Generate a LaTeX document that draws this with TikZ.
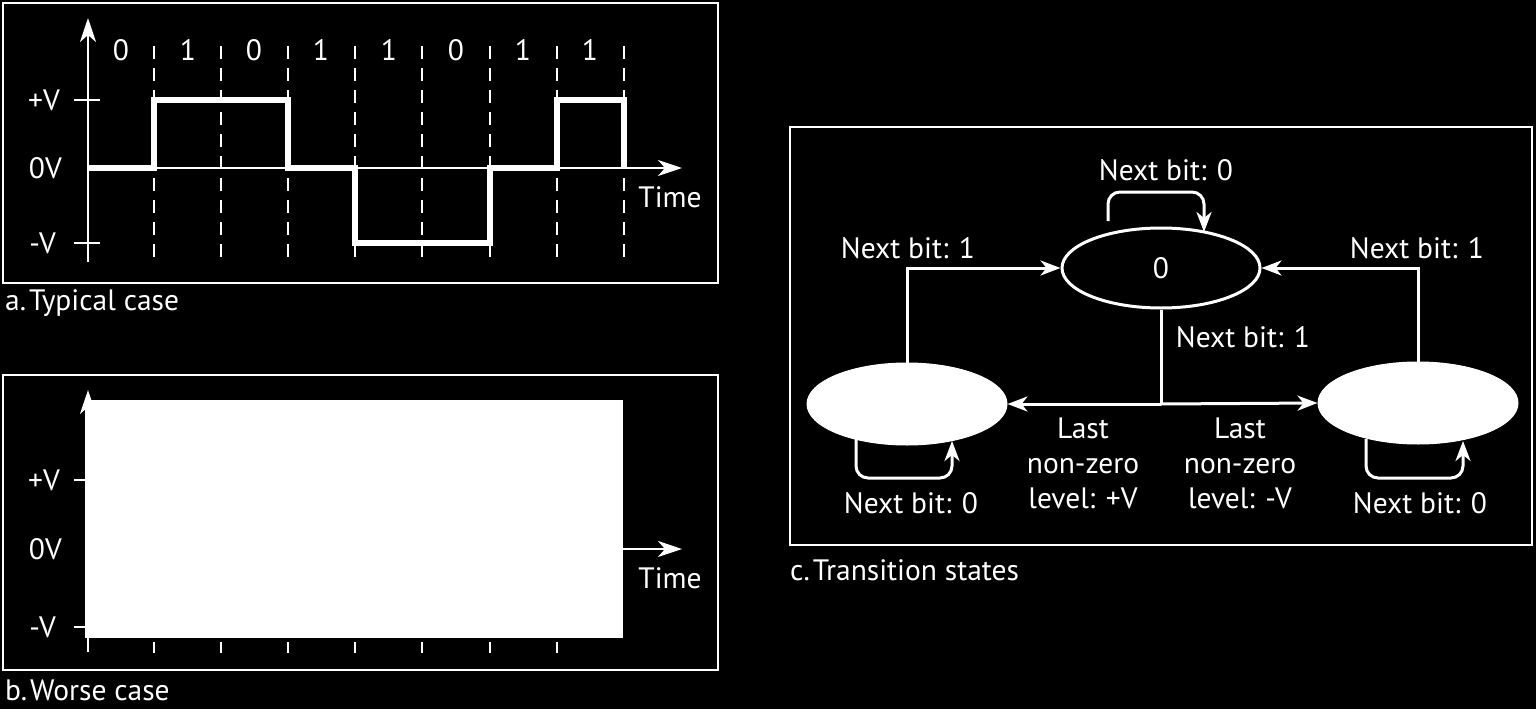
\documentclass[tikz,border=0pt]{standalone}
\usepackage{fontspec}
\setmainfont{PT Sans}
\usetikzlibrary{arrows.meta,shapes.geometric,calc}
\begin{document}
\begin{tikzpicture}[x=1pt,y=-1pt,
  lbl/.style={text=white,font=\fontsize{29.5}{35}\selectfont,inner sep=0pt},
  panel/.style={draw=white,line width=2pt},
  axis/.style={white,line width=2.5pt},
  arr/.style={-{Stealth[length=24pt,width=16pt,inset=7pt]}},
  carr/.style={-{Stealth[length=20pt,width=15pt,inset=6pt]}},
  sig/.style={white,line width=5.5pt,line join=miter},
  dsh/.style={white,line width=2.5pt,dash pattern=on 13pt off 9pt},
  conn/.style={white,line width=3pt},
  st/.style={ellipse,draw=white,line width=3pt,minimum width=198pt,minimum height=80pt,inner sep=0pt},
  stf/.style={ellipse,fill=white,draw=white,line width=1pt,minimum width=200pt,minimum height=82pt,inner sep=0pt}
]
\fill[black] (0,0) rectangle (1536,709);
\useasboundingbox (0,0) rectangle (1536,709);

% ---------- panel a ----------
\draw[panel] (3,3) rectangle (718,283);
\node[lbl,anchor=west] (capa) at (5,303) {a.\hspace{3pt}Typical case};
\foreach \x in {154,221,288,355,422,490,557,624}
  \draw[dsh] (\x,46) -- (\x,262);
\draw[axis,arr] (88,262) -- (88,18);
\draw[axis,arr] (88,168) -- (682,168);
\draw[axis] (74,100) -- (100,100);
\draw[axis] (74,243) -- (100,243);
\draw[sig] (88,168) -- (154,168) -- (154,100) -- (288,100) -- (288,168)
  -- (355,168) -- (355,243) -- (490,243) -- (490,168) -- (557,168)
  -- (557,100) -- (624,100) -- (624,168);
\node[lbl,anchor=east] (pva) at (60,100) {+V};
\node[lbl,anchor=east] (zva) at (62,168) {0V};
\node[lbl,anchor=east] (mva) at (56,243) {-V};
\node[lbl] (tia) at (670,197) {Time};
\foreach \x/\b [count=\i] in {121/0,188/1,254/0,321/1,389/1,456/0,523/1,590/1}
  \node[lbl] (bit\i) at (\x,50) {\b};

% ---------- panel b ----------
\draw[panel] (3,375) rectangle (718,670);
\node[lbl,anchor=west] (capb) at (5,690) {b.\hspace{3pt}Worse case};
\draw[axis,arr] (88,652) -- (88,390);
\draw[axis,arr] (88,549) -- (682,549);
\draw[axis] (74,480) -- (88,480);
\draw[axis] (74,627) -- (88,627);
\foreach \x in {154,221,288,355,422,490,557}
  \draw[axis] (\x,642) -- (\x,653);
\fill[white] (85,400) rectangle (623,638);
\node[lbl,anchor=east] (pvb) at (60,480) {+V};
\node[lbl,anchor=east] (zvb) at (62,549) {0V};
\node[lbl,anchor=east] (mvb) at (56,627) {-V};
\node[lbl] (tib) at (670,578) {Time};

% ---------- panel c ----------
\draw[panel] (790,127) rectangle (1532,545);
\node[lbl,anchor=west] (capc) at (790,570) {c.\hspace{3pt}Transition states};

\node[st,lbl,inner sep=0pt] (zero) at (1161,268) {0};
\node[stf] (pos) at (907,404) {};
\node[stf] (neg) at (1418,403) {};

\draw[conn,carr] (pos.north) |- (zero.west);
\draw[conn,carr] (neg.north) |- (zero.east);
\coordinate (br) at (zero.south |- pos.east);
\draw[conn] (zero.south) -- (br);
\draw[conn,carr] (br) -- (pos.east);
\draw[conn,carr] (br) -- (neg.west);

\coordinate (zl0) at (1108,221);
\coordinate (zl1) at (1108,192);
\coordinate (zl2) at (1204,192);
\coordinate (zl3) at (1204,232);
\draw[conn,carr,rounded corners=12pt] (zl0) -- (zl1) -- (zl2) -- (zl3);

\coordinate (pl0) at (856,439);
\coordinate (pl1) at (856,478);
\coordinate (pl2) at (952,478);
\coordinate (pl3) at (952,441);
\draw[conn,carr,rounded corners=12pt] (pl0) -- (pl1) -- (pl2) -- (pl3);

\coordinate (nl0) at (1366,439);
\coordinate (nl1) at (1366,478);
\coordinate (nl2) at (1463,478);
\coordinate (nl3) at (1463,441);
\draw[conn,carr,rounded corners=12pt] (nl0) -- (nl1) -- (nl2) -- (nl3);

\node[lbl] (l0) at (1166,170) {Next bit: 0};
\node[lbl] (l1) at (908,248) {Next bit: 1};
\node[lbl] (l2) at (1417,248) {Next bit: 1};
\node[lbl] (l3) at (1243,337) {Next bit: 1};
\node[lbl,align=center,anchor=north] (l4) at (1083,418) {Last\\non-zero\\level: +V};
\node[lbl,align=center,anchor=north] (l5) at (1240,418) {Last\\non-zero\\level: -V};
\node[lbl] (l6) at (911,503) {Next bit: 0};
\node[lbl] (l7) at (1420,503) {Next bit: 0};
\end{tikzpicture}
\end{document}
